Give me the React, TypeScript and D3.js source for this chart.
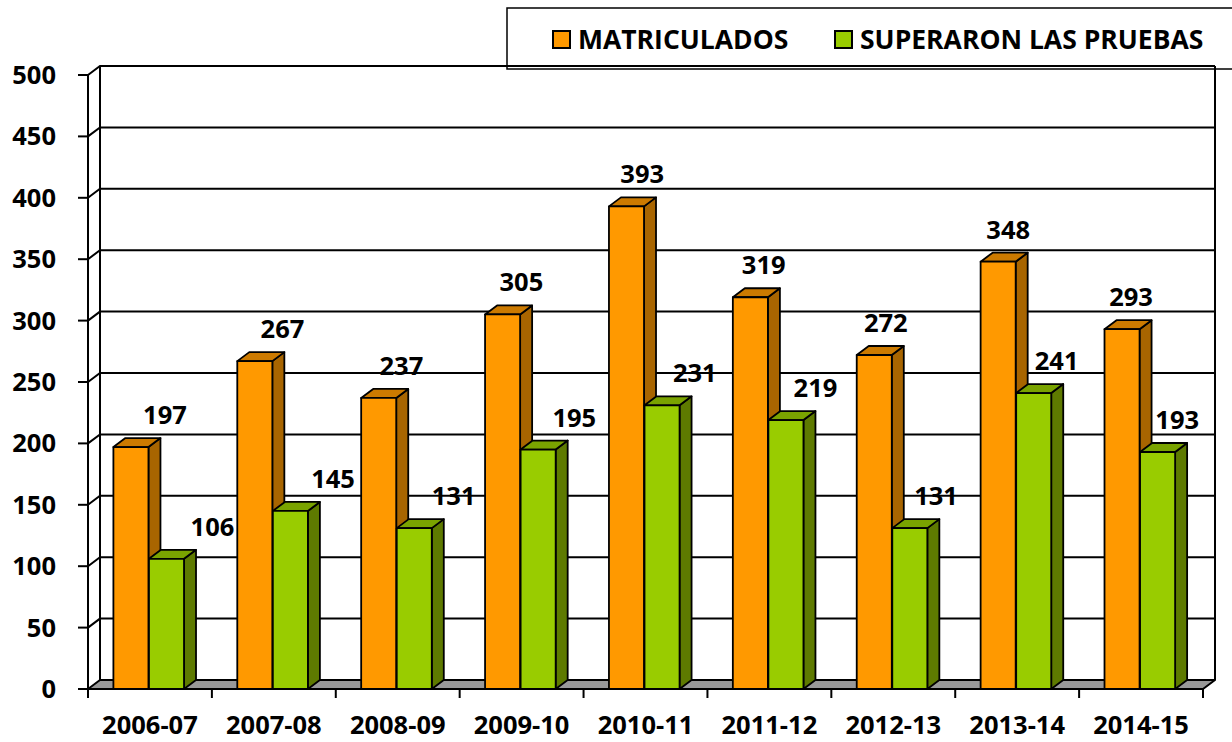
import React, { useEffect } from "react";
import * as d3 from "d3";

const categories = ["2006-07", "2007-08", "2008-09", "2009-10", "2010-11", "2011-12", "2012-13", "2013-14", "2014-15"];
const matriculados = [197, 267, 237, 305, 393, 319, 272, 348, 293];
const superaron = [106, 145, 131, 195, 231, 219, 131, 241, 193];
const yTicks = [0, 50, 100, 150, 200, 250, 300, 350, 400, 450, 500];
const seriesNames = ["MATRICULADOS", "SUPERARON LAS PRUEBAS"];

const W = 1232;
const H = 742;
const DX = 12;
const DY = -9;
const FONT = "'Open Sans', 'DejaVu Sans', sans-serif";

const palettes = [
  { front: "#FF9900", top: "#CC7A00", side: "#A86500" },
  { front: "#99CC00", top: "#7AA300", side: "#5E7A00" },
];

export default function App() {
  useEffect(() => {
    document.body.style.margin = "0";
  }, []);

  const y = d3.scaleLinear().domain([0, 500]).range([689, 75]);
  const x = d3.scaleBand<string>().domain(categories).range([88, 1203]);
  const bw = x.bandwidth();
  const left = 88;
  const right = 1203;
  const series = [matriculados, superaron];

  const labelOffset = (s: number, i: number) =>
    s === 0 ? 5 + 29 * Math.pow(0.78, i) : 46 - 3.3 * i;

  const pts = (p: number[][]) => p.map((q) => q.join(",")).join(" ");

  return (
    <svg width={W} height={H} style={{ display: "block", background: "#fff" }} fontFamily={FONT}>
      {/* back wall */}
      <rect x={left + DX} y={y(500) + DY} width={right - left} height={y(0) - y(500)} fill="#fff" />
      {/* gridlines */}
      {yTicks.filter((t) => t > 0).map((t) => (
        <path
          key={"g" + t}
          d={`M${left},${y(t)} L${left + DX},${y(t) + DY} L${right + DX},${y(t) + DY}`}
          fill="none"
          stroke="#000"
          strokeWidth={2}
        />
      ))}
      {/* wall edges */}
      <line x1={left + DX} x2={left + DX} y1={y(500) + DY} y2={y(0) + DY} stroke="#000" strokeWidth={2} />
      <line x1={right + DX} x2={right + DX} y1={y(500) + DY} y2={y(0) + DY} stroke="#000" strokeWidth={2} />
      <line x1={left} x2={left} y1={y(500)} y2={y(0)} stroke="#000" strokeWidth={2} />
      {/* floor */}
      <polygon
        points={pts([[left, y(0)], [right, y(0)], [right + DX, y(0) + DY], [left + DX, y(0) + DY]])}
        fill="#999999"
        stroke="#000"
        strokeWidth={2}
        strokeLinejoin="round"
      />
      {/* y ticks */}
      {yTicks.map((t) => (
        <g key={"yt" + t}>
          <line x1={left - 10} x2={left} y1={y(t)} y2={y(t)} stroke="#000" strokeWidth={2} />
          <text x={56} y={y(t) + 9} textAnchor="end" fontSize={25.5} fontWeight={700} fill="#000">
            {t}
          </text>
        </g>
      ))}
      {/* x ticks */}
      {[...categories.map((c) => x(c) as number), right].map((v, i) => (
        <line key={"xt" + i} x1={v} x2={v} y1={y(0)} y2={y(0) + 9} stroke="#000" strokeWidth={2} />
      ))}
      {categories.map((c) => (
        <text
          key={"xl" + c}
          x={(x(c) as number) + bw / 2}
          y={734}
          textAnchor="middle"
          fontSize={25.5}
          fontWeight={700}
          fill="#000"
        >
          {c}
        </text>
      ))}
      {/* bars */}
      {categories.map((c, i) =>
        series.map((vals, s) => {
          const v = vals[i];
          const w = bw * 0.283;
          const xf = (x(c) as number) + bw * 0.205 + s * bw * 0.287;
          const top = y(v);
          const bot = y(0);
          const pal = palettes[s];
          return (
            <g key={`b${i}-${s}`} stroke="#000" strokeWidth={1.8} strokeLinejoin="round">
              <polygon
                points={pts([[xf + w, top], [xf + w + DX, top + DY], [xf + w + DX, bot + DY], [xf + w, bot]])}
                fill={pal.side}
              />
              <polygon
                points={pts([[xf, top], [xf + DX, top + DY], [xf + w + DX, top + DY], [xf + w, top]])}
                fill={pal.top}
              />
              <rect x={xf} y={top} width={w} height={bot - top} fill={pal.front} />
            </g>
          );
        })
      )}
      {/* labels */}
      {categories.map((c, i) =>
        series.map((vals, s) => {
          const v = vals[i];
          const w = bw * 0.283;
          const xf = (x(c) as number) + bw * 0.205 + s * bw * 0.287;
          return (
            <text
              key={`l${i}-${s}`}
              x={xf + w / 2 + labelOffset(s, i)}
              y={y(v) - 32 + 9}
              textAnchor="middle"
              fontSize={25.5}
              fontWeight={700}
              fill="#000"
            >
              {v}
            </text>
          );
        })
      )}
      {/* legend */}
      <rect x={507} y={8} width={760} height={61} fill="none" stroke="#000" strokeWidth={1.5} />
      {seriesNames.map((n, k) => {
        const sx = k === 0 ? 553 : 835;
        return (
          <g key={"lg" + k}>
            <rect x={sx} y={31} width={17} height={17} fill={palettes[k].front} stroke="#000" strokeWidth={2} />
            <text x={sx + 25} y={49} fontSize={26.5} fontWeight={700} fill="#000">
              {n}
            </text>
          </g>
        );
      })}
    </svg>
  );
}
